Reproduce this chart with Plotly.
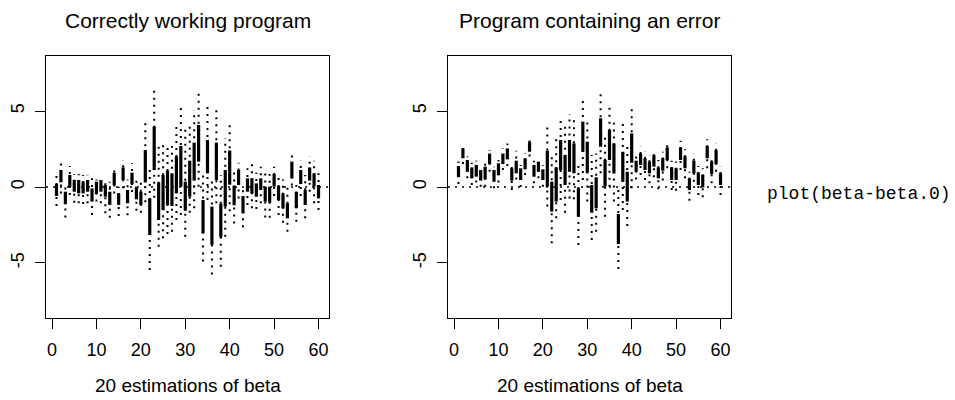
import plotly.graph_objects as go

# ---- data -------------------------------------------------------------
idx = list(range(1, 61))
x_ticks = [0, 10, 20, 30, 40, 50, 60]
y_ticks = [-5, 0, 5]
y_tick_text = ["-5", "0", "5"]

# Correctly working program: inner (thick) and outer (dotted) intervals
ok_in_lo = [-0.59, 0.31, -1.14, 0.02, -0.31, -0.42, -0.42, -0.31, -0.96, -0.46,
            -0.31, -0.64, -1.18, 0.13, -1.18, 0.46, -1.07, 0.18, -0.81, -1.18,
            0.30, -3.16, 1.12, -2.17, -1.51, -1.18, -1.25, -0.42, 0.02, -1.56,
            -0.64, 0.42, 1.67, -3.05, 0.90, -3.80, 0.46, -3.30, -1.29, 0.15,
            -1.20, 0.13, -1.73, -0.31, -0.42, -0.64, -0.20, -0.96, -1.03, 0.02,
            -0.86, -1.40, -2.06, 0.57, -1.40, 0.20, -1.18, 0.42, 0.02, -0.75]
ok_in_hi = [0.20, 1.12, -0.31, 0.79, 0.46, 0.46, 0.35, 0.46, -0.09, 0.35,
            0.46, 0.13, -0.31, 0.94, -0.42, 1.29, -0.20, 0.94, 0.02, -0.31,
            2.43, -0.75, 3.97, 0.29, 0.79, 1.07, 0.90, 2.00, 2.70, 0.35,
            1.73, 2.92, 4.08, -0.86, 3.09, -1.29, 2.92, -1.10, 1.12, 2.40,
            0.10, 1.12, -0.59, 0.57, 0.57, 0.24, 0.57, 0.02, 0.02, 0.86,
            0.07, -0.42, -1.07, 1.67, -0.31, 1.12, -0.20, 1.29, 0.90, 0.13]
ok_out_lo = [-1.25, -0.42, -2.00, -0.53, -1.03, -1.07, -1.12, -1.07, -1.84, -0.96,
             -1.07, -1.73, -2.02, -0.42, -1.91, -0.09, -1.86, -0.33, -1.56, -1.69,
             -1.00, -5.46, -0.70, -3.93, -3.38, -3.09, -2.94, -2.17, -1.84, -3.27,
             -1.69, -1.40, 0.02, -4.90, -0.86, -5.75, -1.07, -5.24, -3.27, -1.60,
             -2.40, -0.75, -2.65, -1.18, -1.40, -1.45, -1.07, -2.00, -2.02, -0.59,
             -1.84, -2.35, -2.94, 0.10, -2.28, -0.59, -2.06, -0.31, -1.07, -1.51]
ok_out_hi = [0.72, 1.56, 0.13, 1.38, 0.86, 0.86, 0.79, 0.81, 0.57, 0.50,
             0.77, 0.50, 0.35, 1.38, 0.02, 1.78, 0.50, 1.56, 0.46, 0.35,
             4.50, 1.20, 6.34, 2.87, 2.87, 2.76, 2.70, 4.19, 5.29, 3.86,
             3.97, 5.07, 6.20, 1.00, 5.39, 0.46, 5.33, 0.79, 3.20, 4.33,
             1.20, 1.60, 0.02, 1.23, 1.51, 0.94, 1.34, 1.00, 0.86, 1.34,
             0.64, 0.50, 0.00, 2.10, 0.13, 1.73, 0.79, 2.00, 1.73, 0.90]

# Program containing an error
er_in_lo = [0.64, 1.89, 1.00, 0.57, 0.68, 0.42, 0.50, 1.51, 0.35, 0.79,
            1.51, 1.82, 0.42, 0.90, 0.46, 1.16, 2.32, 0.68, 1.00, 0.46,
            0.02, -1.62, -0.96, 1.12, 0.13, 1.00, 0.90, -1.95, 2.32, 0.94,
            -1.69, -1.40, 2.65, 0.02, 1.78, 0.90, -3.75, 0.35, -0.96, 1.60,
            1.00, 1.45, 1.12, 0.90, 1.34, 0.57, 1.07, 1.78, 0.46, 0.46,
            1.78, 1.23, -0.20, 0.90, 0.13, -0.02, 1.89, 0.86, 1.51, 0.13]
er_in_hi = [1.38, 2.54, 1.78, 1.29, 1.45, 1.12, 1.34, 2.20, 1.12, 1.56,
            2.20, 2.54, 1.23, 1.73, 1.23, 1.89, 2.98, 1.45, 1.67, 1.16,
            2.39, 0.35, 1.29, 3.09, 2.10, 3.09, 2.87, -0.09, 4.30, 2.98,
            0.13, 0.64, 4.52, 1.78, 3.75, 2.87, -1.78, 2.32, 1.00, 3.53,
            1.73, 2.20, 1.89, 1.67, 2.10, 1.29, 1.89, 2.61, 1.29, 1.23,
            2.61, 2.04, 0.57, 1.73, 0.94, 0.79, 2.70, 1.67, 2.43, 0.90]
er_out_lo = [0.20, 1.51, 0.57, 0.13, 0.29, 0.02, 0.02, 1.00, -0.09, 0.29,
             1.12, 1.38, -0.20, 0.50, 0.00, 0.79, 2.00, 0.24, 0.57, 0.02,
             -1.29, -3.70, -2.06, -0.86, -1.69, -0.75, -0.81, -3.82, 0.46, -0.96,
             -3.49, -2.94, 0.90, -1.95, 0.02, -0.96, -5.39, -1.51, -2.57, -0.09,
             0.50, 0.79, 0.46, 0.24, 0.64, -0.15, 0.42, 1.23, -0.20, -0.24,
             1.12, 0.57, -0.90, 0.35, -0.53, -0.68, 1.23, 0.24, 1.00, -0.53]
er_out_hi = [1.67, 2.87, 2.00, 1.60, 1.73, 1.38, 1.56, 2.43, 1.34, 1.78,
             2.54, 2.87, 1.60, 2.39, 1.45, 2.20, 3.20, 1.73, 1.95, 1.45,
             4.01, 2.00, 3.31, 4.67, 4.01, 4.80, 4.67, 1.45, 5.83, 4.41,
             2.10, 2.20, 6.27, 3.42, 5.39, 4.23, 0.02, 4.23, 2.76, 5.18,
             2.20, 2.65, 2.32, 2.10, 2.48, 1.78, 2.32, 3.05, 1.73, 1.67,
             3.05, 2.48, 1.00, 2.20, 1.38, 1.23, 3.14, 2.04, 2.87, 1.34]

titles = ["Correctly working program", "Program containing an error"]
x_label = "20 estimations of beta"
side_note = "plot(beta-beta.0)"

# ---- figure -----------------------------------------------------------
W, H = 955, 400
SANS = "Liberation Sans, Arial, Helvetica, sans-serif"
MONO = "Liberation Mono, Courier New, monospace"
DOT = "2px,5px"


def segments(lo, hi):
    xs, ys = [], []
    for i, a, b in zip(idx, lo, hi):
        xs += [i, i, None]
        ys += [a, b, None]
    return xs, ys


fig = go.Figure()
panels = [
    ("x", "y", ok_in_lo, ok_in_hi, ok_out_lo, ok_out_hi),
    ("x2", "y2", er_in_lo, er_in_hi, er_out_lo, er_out_hi),
]
for xa, ya, ilo, ihi, olo, ohi in panels:
    xs, ys = segments(olo, ohi)
    fig.add_trace(go.Scatter(x=xs, y=ys, mode="lines", xaxis=xa, yaxis=ya,
                             line=dict(color="black", width=2, dash=DOT),
                             hoverinfo="skip", showlegend=False))
    xs, ys = segments(ilo, ihi)
    fig.add_trace(go.Scatter(x=xs, y=ys, mode="lines", xaxis=xa, yaxis=ya,
                             line=dict(color="black", width=3.2),
                             hoverinfo="skip", showlegend=False))

boxes = [(46, 329), (448, 731)]
y_dom = [(H - 318) / H, (H - 56) / H]

common_x = dict(range=[-1.36, 62.36], tickmode="array", tickvals=x_ticks,
                ticks="outside", ticklen=10, tickwidth=1, tickcolor="black",
                showline=True, mirror=True, linecolor="black", linewidth=1.2,
                showgrid=False, zeroline=False,
                tickfont=dict(family=SANS, size=18, color="black"),
                ticklabelstandoff=5)
common_y = dict(range=[-8.62, 8.62], tickmode="array", tickvals=y_ticks,
                ticktext=y_tick_text, tickangle=-90,
                ticks="outside", ticklen=10, tickwidth=1, tickcolor="black",
                showline=True, mirror=True, linecolor="black", linewidth=1.2,
                showgrid=False, zeroline=False,
                tickfont=dict(family=SANS, size=18, color="black"),
                ticklabelstandoff=4)

fig.update_layout(
    xaxis=dict(domain=[boxes[0][0] / W, boxes[0][1] / W], anchor="y", **common_x),
    yaxis=dict(domain=y_dom, anchor="x", **common_y),
    xaxis2=dict(domain=[boxes[1][0] / W, boxes[1][1] / W], anchor="y2", **common_x),
    yaxis2=dict(domain=y_dom, anchor="x2", **common_y),
)

# dotted reference line at zero in each panel
for xa, ya in [("x", "y"), ("x2", "y2")]:
    fig.add_shape(type="line", xref=f"{xa} domain", yref=ya, x0=0, x1=1, y0=0, y1=0,
                  line=dict(color="black", width=1.5, dash=DOT), layer="below")

annots = []
for (l, r), t in zip(boxes, titles):
    cx = (l + r) / 2 / W
    annots.append(dict(text=t, x=cx, y=(H - 20) / H, xref="paper", yref="paper",
                       xanchor="center", yanchor="middle", showarrow=False,
                       font=dict(family=SANS, size=21, color="black")))
    annots.append(dict(text=x_label, x=cx, y=(H - 385) / H, xref="paper", yref="paper",
                       xanchor="center", yanchor="middle", showarrow=False,
                       font=dict(family=SANS, size=19, color="black")))
annots.append(dict(text=side_note, x=765 / W, y=(H - 194) / H, xref="paper", yref="paper",
                   xanchor="left", yanchor="middle", showarrow=False,
                   font=dict(family=MONO, size=18, color="black")))

fig.update_layout(width=W, height=H, margin=dict(l=0, r=0, t=0, b=0),
                  paper_bgcolor="white", plot_bgcolor="white",
                  annotations=annots)

fig.write_html("out.html")
